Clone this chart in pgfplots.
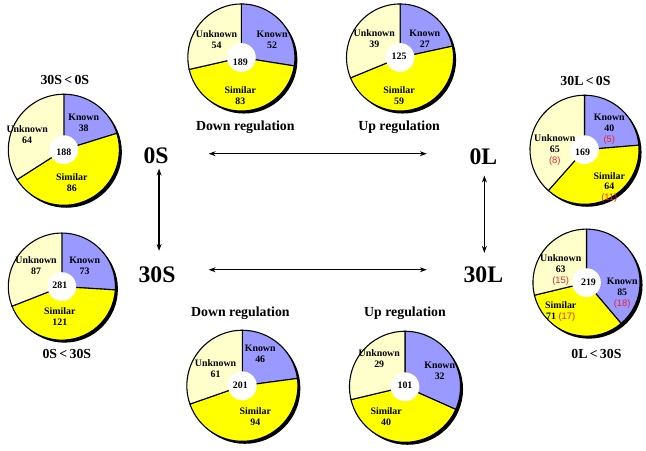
\documentclass[border=0pt]{standalone}
\usepackage{pgfplots}
\pgfplotsset{compat=1.18}
\usepackage{pgfplotstable}
\usepackage{fontspec}
\setmainfont{Liberation Serif}
\newfontfamily\arialf{Liberation Sans}
\usetikzlibrary{arrows.meta}
\definecolor{known}{RGB}{153,153,255}
\definecolor{similar}{RGB}{255,255,0}
\definecolor{unknown}{RGB}{255,255,204}
\definecolor{redn}{RGB}{235,35,45}

% one row per pie: centre, radius, and the three counts
\pgfplotstableread{
cx  cy  r  known similar unknown
59  300 56 38 86 64
238 393 54 52 83 54
398 393 54 27 59 39
584 300 55 40 64 65
57  162 54 73 121 87
586 166 54 85 71 63
239 62  56 46 94 61
403 61  56 32 40 29
}\pies

\newcommand{\pl}{\bfseries\fontsize{10}{11}\selectfont}
\newcommand{\rd}[1]{{\arialf\mdseries\fontsize{9.5}{11}\selectfont\color{redn}(#1)}}
\tikzset{ttl/.style={font=\bfseries\fontsize{14}{16}\selectfont},
         big/.style={font=\bfseries\fontsize{24}{26}\selectfont},
         arr/.style={line width=1.5bp,{Stealth[length=7bp,width=5bp]}-{Stealth[length=7bp,width=5bp]}}}

\begin{document}
\begin{tikzpicture}
\begin{axis}[
  scale only axis, width=646bp, height=451bp,
  xmin=0, xmax=646, ymin=0, ymax=451,
  hide axis, clip=false]
\draw[draw=none] (rel axis cs:0,0) rectangle (rel axis cs:1,1);
\pgfplotsextra{
  \pgfplotstablegetrowsof{\pies}
  \pgfmathtruncatemacro\nrows{\pgfplotsretval-1}
  \foreach \i in {0,...,\nrows}{
    \pgfplotstablegetelem{\i}{cx}\of\pies \let\pcx\pgfplotsretval
    \pgfplotstablegetelem{\i}{cy}\of\pies \let\pcy\pgfplotsretval
    \pgfplotstablegetelem{\i}{r}\of\pies \let\pr\pgfplotsretval
    \pgfplotstablegetelem{\i}{known}\of\pies \let\pkn\pgfplotsretval
    \pgfplotstablegetelem{\i}{similar}\of\pies \let\psi\pgfplotsretval
    \pgfplotstablegetelem{\i}{unknown}\of\pies \let\pun\pgfplotsretval
    \pgfmathsetmacro\ptot{\pkn+\psi+\pun}
    \pgfmathsetmacro\aB{90-360*(\pkn/\ptot)}
    \pgfmathsetmacro\aC{\aB-360*(\psi/\ptot)}
    \fill[black] ([xshift=2.5bp,yshift=-2.5bp]axis cs:\pcx,\pcy) circle[radius=\pr bp];
    \filldraw[fill=known,draw=black,line width=1.1bp] (axis cs:\pcx,\pcy) -- ++(90:\pr bp) arc[start angle=90,end angle=\aB,radius=\pr bp] -- cycle;
    \filldraw[fill=similar,draw=black,line width=1.1bp] (axis cs:\pcx,\pcy) -- ++(\aB:\pr bp) arc[start angle=\aB,end angle=\aC,radius=\pr bp] -- cycle;
    \filldraw[fill=unknown,draw=black,line width=1.1bp] (axis cs:\pcx,\pcy) -- ++(\aC:\pr bp) arc[start angle=\aC,end angle=-270,radius=\pr bp] -- cycle;
    \fill[white] (axis cs:\pcx,\pcy) circle[radius=14.5bp];
  }
}
% arrows
\draw[arr] (axis cs:205,296) -- (axis cs:425,296);
\draw[arr] (axis cs:205,179) -- (axis cs:425,179);
\draw[arr] (axis cs:155,281) -- (axis cs:155,198);
\draw[arr] (axis cs:483,274) -- (axis cs:483,196);
% big labels
\node[big] at (axis cs:152,294) {0S};
\node[big] at (axis cs:153,174) {30S};
\node[big] at (axis cs:482,293) {0L};
\node[big] at (axis cs:482,174) {30L};
% titles
\node[ttl] at (axis cs:60,370) {30S\,<\,0S};
\node[ttl] at (axis cs:585,369) {30L\,<\,0S};
\node[ttl] at (axis cs:62,94) {0S\,<\,30S};
\node[ttl] at (axis cs:596,94) {0L\,<\,30S};
\node[ttl] at (axis cs:242,323) {Down regulation};
\node[ttl] at (axis cs:397,323) {Up regulation};
\node[ttl] at (axis cs:237,135) {Down regulation};
\node[ttl] at (axis cs:403,135) {Up regulation};
% pie A
\node[font=\pl,align=center] at (axis cs:79,327) {Known\\38};
\node[font=\pl,align=center] at (axis cs:22,315) {Unknown\\64};
\node[font=\pl] at (axis cs:59,297) {188};
\node[font=\pl,align=center] at (axis cs:67,267) {Similar\\86};
% pie B
\node[font=\pl,align=center] at (axis cs:213,411) {Unknown\\54};
\node[font=\pl,align=center] at (axis cs:269,411) {Known\\52};
\node[font=\pl] at (axis cs:237,388) {189};
\node[font=\pl,align=center] at (axis cs:237,355) {Similar\\83};
% pie C
\node[font=\pl,align=center] at (axis cs:372,412) {Unknown\\39};
\node[font=\pl,align=center] at (axis cs:423,412) {Known\\27};
\node[font=\pl] at (axis cs:397,394) {125};
\node[font=\pl,align=center] at (axis cs:397,355) {Similar\\59};
% pie D
\node[font=\pl,align=center] at (axis cs:609,321) {Known\\40\\\rd{5}};
\node[font=\pl,align=center] at (axis cs:554,300) {Unknown\\65\\\rd{8}};
\node[font=\pl] at (axis cs:582,297) {169};
\node[font=\pl,align=center] at (axis cs:609,262) {Similar\\64\\\rd{11}};
% pie E
\node[font=\pl,align=center] at (axis cs:31,183) {Unknown\\87};
\node[font=\pl,align=center] at (axis cs:80,183) {Known\\73};
\node[font=\pl] at (axis cs:55,163) {281};
\node[font=\pl,align=center] at (axis cs:55,132) {Similar\\121};
% pie F
\node[font=\pl,align=center] at (axis cs:560,179) {Unknown\\63\\\rd{15}};
\node[font=\pl] at (axis cs:588,166) {219};
\node[font=\pl,align=center] at (axis cs:622,155) {Known\\85\\\rd{18}};
\node[font=\pl,align=center] at (axis cs:560,137) {Similar\\71 \rd{17}};
% pie G
\node[font=\pl,align=center] at (axis cs:257,94) {Known\\46};
\node[font=\pl,align=center] at (axis cs:212,79) {Unknown\\61};
\node[font=\pl] at (axis cs:237,63) {201};
\node[font=\pl,align=center] at (axis cs:252,31) {Similar\\94};
% pie H
\node[font=\pl,align=center] at (axis cs:377,89) {Unknown\\29};
\node[font=\pl,align=center] at (axis cs:438,77) {Known\\32};
\node[font=\pl] at (axis cs:403,63) {101};
\node[font=\pl,align=center] at (axis cs:384,31) {Similar\\40};
\end{axis}
\end{tikzpicture}
\end{document}
